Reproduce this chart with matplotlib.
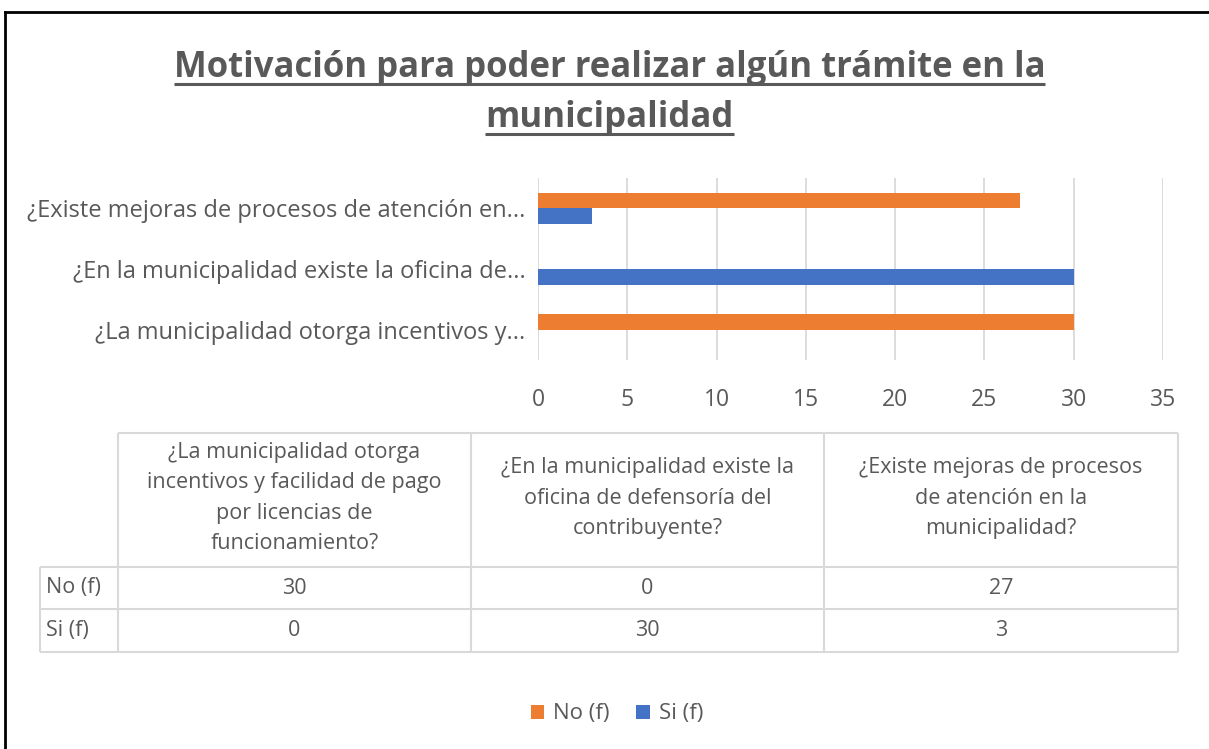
#!/usr/bin/env python3
# plot.py
# Barras horizontales con tabla de datos (estilo Excel)
import numpy as np
import matplotlib
matplotlib.use('Agg')
import matplotlib.pyplot as plt
from matplotlib.lines import Line2D

titulo = ['Motivación para poder realizar algún trámite en la', 'municipalidad']
etiquetas_y = ['¿La municipalidad otorga incentivos y...',
               '¿En la municipalidad existe la oficina de...',
               '¿Existe mejoras de procesos de atención en...']
encabezados = ['¿La municipalidad otorga\nincentivos y facilidad de pago\npor licencias de\nfuncionamiento?',
               '¿En la municipalidad existe la\noficina de defensoría del\ncontribuyente?',
               '¿Existe mejoras de procesos\nde atención en la\nmunicipalidad?']
series = ['No (f)', 'Si (f)']
no_f = [30, 0, 27]
si_f = [0, 30, 3]
xticks = [0, 5, 10, 15, 20, 25, 30, 35]

NARANJA = '#ED7D31'
AZUL = '#4472C4'
GRIS = '#595959'
LINEA = '#D9D9D9'
FUENTE = ['Open Sans', 'DejaVu Sans']

W, H = 1209, 749
fig = plt.figure(figsize=(W / 100, H / 100), dpi=100)

# capa en coordenadas de pixel para tabla, titulo y marco
ov = fig.add_axes([0, 0, 1, 1], zorder=0)
ov.set_xlim(0, W)
ov.set_ylim(H, 0)
ov.axis('off')

# area de barras
x0, x1, y0, y1 = 538, 1163, 178, 360
ax = fig.add_axes([x0 / W, 1 - y1 / H, (x1 - x0) / W, (y1 - y0) / H], zorder=2)
y = np.arange(len(no_f))
h = 0.26
b_no = ax.barh(y + h / 2, no_f, height=h, color=NARANJA, label=series[0], zorder=3)
b_si = ax.barh(y - h / 2, si_f, height=h, color=AZUL, label=series[1], zorder=3)
ax.set_xlim(0, 35)
ax.set_ylim(-0.5, 2.5)
ax.set_xticks(xticks)
ax.set_yticks(y)
ax.set_yticklabels(etiquetas_y)
ax.grid(axis='x', color=LINEA, lw=1.3, zorder=0)
for s in ax.spines.values():
    s.set_visible(False)
ax.tick_params(axis='both', length=0, colors=GRIS, labelsize=16.5)
ax.tick_params(axis='x', pad=20)
ax.tick_params(axis='y', pad=9, labelsize=17)
for t in ax.get_xticklabels() + ax.get_yticklabels():
    t.set_family(FUENTE)
ax.set_facecolor('none')

# titulo subrayado
tt = []
for txt, yb in zip(titulo, [77, 127]):
    tt.append(ov.text(W / 2 + 5, yb, txt, ha='center', va='baseline', fontsize=25,
                      fontweight='bold', color=GRIS, family=FUENTE))
fig.canvas.draw()
r = fig.canvas.get_renderer()
for t, yu in zip(tt, [84, 134]):
    bb = t.get_window_extent(r)
    ov.plot([bb.x0, bb.x1], [yu, yu], color=GRIS, lw=2.2, solid_capstyle='butt')

# tabla de datos
cols = [40, 118, 471, 824, 1178]
rows = [433, 567, 609, 652]
kw = dict(color=LINEA, lw=1.5, solid_capstyle='butt')
ov.plot([cols[1], cols[-1]], [rows[0], rows[0]], **kw)
for yy in rows[1:]:
    ov.plot([cols[0], cols[-1]], [yy, yy], **kw)
ov.plot([cols[0], cols[0]], [rows[1], rows[-1]], **kw)
for xx in cols[1:]:
    ov.plot([xx, xx], [rows[0], rows[-1]], **kw)

for i, enc in enumerate(encabezados):
    cx = (cols[i + 1] + cols[i + 2]) / 2
    ov.text(cx, (rows[0] + rows[1]) / 2 - 2, enc, ha='center', va='center', fontsize=15.5,
            color=GRIS, family=FUENTE, linespacing=1.6)
for j, (nom, vals) in enumerate(zip(series, [no_f, si_f])):
    cy = (rows[j + 1] + rows[j + 2]) / 2
    ov.text(cols[0] + 6, cy, nom, ha='left', va='center', fontsize=15.5, color=GRIS, family=FUENTE)
    for i, v in enumerate(vals):
        cx = (cols[i + 1] + cols[i + 2]) / 2
        ov.text(cx, cy, str(v), ha='center', va='center', fontsize=15.5, color=GRIS, family=FUENTE)

# leyenda
leg = fig.legend(handles=[b_no, b_si], loc='center', bbox_to_anchor=(617 / W, 1 - 714 / H),
                 ncol=2, frameon=False, handlelength=0.6, handleheight=0.6,
                 handletextpad=0.4, columnspacing=1.2, prop={'family': FUENTE, 'size': 16})
for t in leg.get_texts():
    t.set_color(GRIS)

# marco
ov.add_line(Line2D([5, W], [12, 12], color='black', lw=2))
ov.add_line(Line2D([5, 5], [12, H], color='black', lw=2))

fig.savefig('out.png', dpi=100)
